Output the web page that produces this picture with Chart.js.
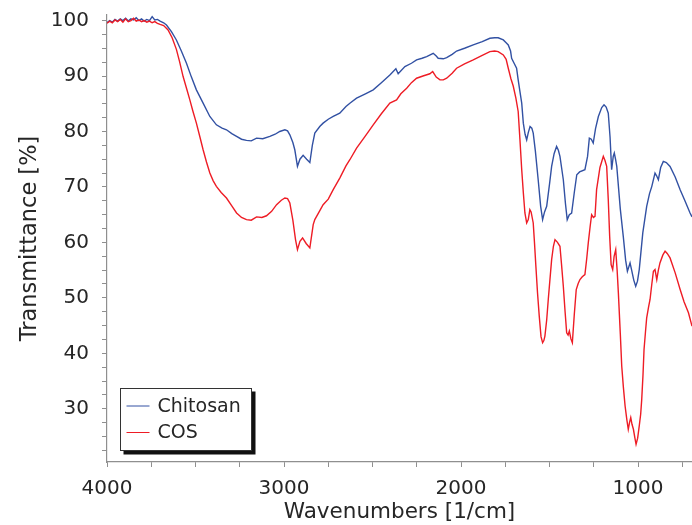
<!DOCTYPE html>
<html>
<head>
<meta charset="utf-8">
<script src="https://cdn.jsdelivr.net/npm/chart.js@4.4.1/dist/chart.umd.min.js"></script>
<style>
  html, body { margin: 0; padding: 0; background: #fff; }
  canvas { display: block; }
</style>
</head>
<body>
<canvas id="ftirChart" width="692" height="525"></canvas>
<script>
// FTIR spectra: wavenumber (1/cm) against transmittance (%)
const chitosanWavenumbers = [
  4000, 3985, 3970, 3955, 3940, 3925, 3910, 3895, 3880, 3865, 3850, 3835, 3820, 3805, 3790, 3775,
  3760, 3745, 3730, 3715, 3700, 3680, 3664, 3636, 3608, 3580, 3551, 3523, 3495, 3457, 3419, 3382,
  3350, 3325, 3295, 3268, 3240, 3212, 3185, 3155, 3120, 3080, 3050, 3024, 2995, 2980, 2967, 2950,
  2939, 2924, 2910, 2892, 2872, 2854, 2840, 2826, 2798, 2779, 2750, 2722, 2685, 2650, 2628, 2590,
  2540, 2496, 2450, 2402, 2368, 2355, 2317, 2280, 2251, 2220, 2194, 2157, 2140, 2129, 2100, 2081,
  2050, 2025, 1980, 1931, 1880, 1837, 1810, 1790, 1761, 1745, 1733, 1720, 1714, 1700, 1686, 1677,
  1667, 1657, 1648, 1638, 1629, 1620, 1610, 1600, 1592, 1580, 1564, 1550, 1539, 1528, 1516, 1500,
  1488, 1474, 1460, 1450, 1441, 1422, 1410, 1400, 1388, 1375, 1360, 1346, 1330, 1300, 1285, 1275,
  1264, 1253, 1240, 1224, 1205, 1192, 1180, 1168, 1158, 1149, 1140, 1134, 1127, 1120, 1100, 1083,
  1070, 1060, 1050, 1045, 1036, 1024, 1013, 1003, 993, 973, 951, 935, 922, 904, 895, 885,
  872, 857, 840, 819, 790, 762, 735, 706, 695
];
const chitosanTransmittance = [
  99.6, 100.0, 99.7, 100.2, 99.9, 100.3, 100.0, 100.4, 99.9, 100.3, 100.1, 100.5, 100.0, 100.3, 99.9, 100.2,
  100.0, 100.7, 100.1, 100.2, 99.9, 99.6, 99.2, 98.0, 96.5, 94.5, 92.3, 89.8, 87.5, 85.1, 82.7, 81.2,
  80.6, 80.3, 79.6, 79.1, 78.6, 78.4, 78.3, 78.8, 78.7, 79.1, 79.5, 80.0, 80.3, 80.1, 79.4, 78.0,
  76.7, 73.7, 75.0, 75.7, 75.0, 74.4, 77.5, 79.7, 80.9, 81.5, 82.2, 82.7, 83.3, 84.5, 85.1, 86.0,
  86.8, 87.5, 88.8, 90.2, 91.3, 90.4, 91.7, 92.3, 92.9, 93.2, 93.5, 94.1, 93.6, 93.2, 93.1, 93.3,
  93.9, 94.5, 95.0, 95.6, 96.2, 96.8, 96.9, 96.9, 96.5, 96.0, 95.6, 94.5, 93.2, 92.3, 91.4, 89.3,
  87.2, 85.1, 81.5, 79.5, 78.5, 79.8, 80.9, 80.6, 79.7, 76.5, 71.3, 66.5, 64.1, 65.5, 66.5, 70.5,
  73.7, 76.0, 77.3, 76.6, 75.5, 71.3, 67.0, 64.1, 65.0, 65.3, 69.0, 72.2, 72.7, 73.1, 75.5, 78.8,
  78.6, 77.9, 80.5, 82.7, 84.3, 84.8, 84.4, 83.3, 79.0, 73.1, 75.5, 76.1, 75.0, 73.7, 66.0, 61.0,
  56.8, 54.8, 55.8, 56.3, 55.0, 53.2, 52.1, 53.0, 55.1, 61.7, 66.5, 68.8, 70.1, 72.5, 72.0, 71.3,
  73.5, 74.6, 74.4, 73.7, 71.8, 69.5, 67.5, 65.3, 64.6
];

const cosWavenumbers = [
  4000, 3985, 3970, 3955, 3940, 3925, 3910, 3895, 3880, 3865, 3850, 3835, 3820, 3805, 3790, 3775,
  3760, 3745, 3730, 3715, 3700, 3680, 3655, 3632, 3608, 3590, 3570, 3550, 3532, 3515, 3495, 3475,
  3457, 3438, 3419, 3400, 3382, 3355, 3325, 3295, 3268, 3240, 3212, 3185, 3155, 3125, 3099, 3070,
  3042, 3015, 2995, 2980, 2967, 2950, 2935, 2924, 2910, 2895, 2875, 2854, 2835, 2826, 2800, 2779,
  2750, 2722, 2685, 2650, 2628, 2590, 2540, 2496, 2450, 2402, 2364, 2340, 2307, 2280, 2251, 2215,
  2176, 2160, 2140, 2119, 2100, 2081, 2050, 2025, 1980, 1931, 1880, 1837, 1810, 1790, 1761, 1745,
  1733, 1718, 1705, 1690, 1677, 1667, 1657, 1648, 1639, 1629, 1620, 1611, 1604, 1592, 1585, 1577,
  1568, 1558, 1548, 1539, 1532, 1526, 1516, 1507, 1497, 1488, 1478, 1469, 1455, 1441, 1432, 1422,
  1412, 1403, 1395, 1388, 1379, 1371, 1360, 1349, 1338, 1328, 1315, 1300, 1290, 1281, 1270, 1262,
  1252, 1243, 1234, 1215, 1196, 1187, 1177, 1168, 1160, 1152, 1143, 1135, 1126, 1118, 1111, 1100,
  1092, 1083, 1073, 1063, 1055, 1048, 1041, 1034, 1026, 1018, 1011, 1002, 993, 985, 979, 972,
  966, 958, 951, 940, 932, 922, 913, 904, 894, 885, 876, 860, 847, 835, 819, 790,
  762, 740, 715, 695
];
const cosTransmittance = [
  99.5, 99.9, 99.6, 100.1, 99.8, 100.2, 99.7, 100.3, 99.8, 100.0, 100.4, 99.9, 100.1, 99.8, 100.0, 99.7,
  99.9, 99.6, 99.8, 99.5, 99.3, 99.1, 98.3, 96.9, 94.8, 92.6, 89.9, 87.7, 85.7, 83.7, 81.5, 79.0,
  76.7, 74.5, 72.5, 71.1, 70.1, 69.0, 68.0, 66.6, 65.3, 64.5, 64.1, 64.0, 64.6, 64.5, 64.8, 65.6,
  66.8, 67.6, 68.0, 67.9, 67.1, 64.0, 60.5, 58.7, 60.2, 60.8, 59.8, 59.0, 63.2, 64.1, 65.6, 66.8,
  67.8, 69.5, 71.6, 73.8, 74.9, 77.0, 79.2, 81.2, 83.2, 85.1, 85.7, 86.8, 87.8, 88.8, 89.6, 90.0,
  90.4, 90.8, 89.8, 89.3, 89.3, 89.6, 90.5, 91.4, 92.2, 92.9, 93.7, 94.4, 94.5, 94.4, 93.8, 93.0,
  91.4, 89.5, 88.2, 86.0, 83.6, 78.5, 73.1, 69.0, 65.3, 63.5, 64.1, 65.9, 65.5, 63.5, 60.0, 55.7,
  51.0, 46.7, 43.0, 41.9, 42.3, 43.1, 46.0, 49.7, 53.5, 56.9, 59.3, 60.5, 60.0, 59.3, 56.0, 52.1,
  47.5, 43.7, 43.3, 44.0, 42.6, 41.9, 47.0, 51.5, 52.6, 53.3, 53.8, 54.2, 57.0, 59.9, 63.0, 65.0,
  64.5, 64.7, 69.5, 73.5, 75.5, 74.8, 73.7, 67.7, 61.0, 56.0, 55.1, 57.5, 58.7, 55.0, 50.9, 43.5,
  37.7, 34.0, 30.5, 28.0, 26.3, 27.5, 28.4, 27.2, 26.3, 24.8, 23.6, 24.7, 26.9, 29.0, 31.7, 36.0,
  40.7, 43.8, 46.4, 48.4, 49.7, 52.5, 54.8, 55.1, 53.3, 55.0, 56.3, 57.7, 58.4, 58.0, 57.2, 54.5,
  51.5, 49.3, 47.3, 44.9
];

const xMajorTicks = [4000, 3000, 2000, 1000];
const yMajorTicks = [100, 90, 80, 70, 60, 50, 40, 30];
const xMinorStep = 250;
const yMinorStep = 2.5;

const textColor = '#262626';
const axisColor = '#8f8f8f';
const fontFamily = '"DejaVu Sans", Verdana, sans-serif';

function toPoints(xs, ys) {
  return xs.map((x, i) => ({ x: x, y: ys[i] }));
}

// tick positions every minor step, labels only on the major values
function stepTicks(min, max, step) {
  const vals = [];
  for (let v = Math.ceil(min / step) * step; v <= max + 1e-9; v += step) vals.push(v);
  return vals;
}

// boxed legend with a drop shadow in the lower left corner
const boxLegend = {
  id: 'boxLegend',
  afterDraw(chart) {
    const ctx = chart.ctx;
    const area = chart.chartArea;
    const bx = area.left + 13.5, by = area.bottom - 73.5, bw = 131, bh = 62;
    ctx.save();
    ctx.fillStyle = '#111';
    ctx.fillRect(bx + 3, by + 3, bw + 1, bh + 1);
    ctx.fillStyle = '#fff';
    ctx.fillRect(bx, by, bw, bh);
    ctx.strokeStyle = '#333';
    ctx.lineWidth = 1;
    ctx.strokeRect(bx, by, bw, bh);
    ctx.font = '19px ' + fontFamily;
    ctx.textBaseline = 'middle';
    ctx.fillStyle = textColor;
    chart.data.datasets.forEach((ds, i) => {
      const ly = by + 17.5 + i * 26.5;
      ctx.strokeStyle = ds.borderColor;
      ctx.beginPath();
      ctx.moveTo(bx + 6, ly);
      ctx.lineTo(bx + 29, ly);
      ctx.stroke();
      ctx.fillText(ds.label, bx + 37, ly + 1);
    });
    ctx.restore();
  }
};

new Chart(document.getElementById('ftirChart'), {
  type: 'line',
  data: {
    datasets: [
      {
        label: 'Chitosan',
        data: toPoints(chitosanWavenumbers, chitosanTransmittance),
        borderColor: '#3251a3',
        borderWidth: 1.4,
        pointRadius: 0,
        order: 1
      },
      {
        label: 'COS',
        data: toPoints(cosWavenumbers, cosTransmittance),
        borderColor: '#ee1c25',
        borderWidth: 1.4,
        pointRadius: 0,
        order: 0
      }
    ]
  },
  options: {
    responsive: false,
    animation: false,
    devicePixelRatio: 1,
    layout: { padding: { top: 15, right: 0, bottom: 0, left: 0 } },
    plugins: {
      legend: { display: false },
      tooltip: { enabled: false }
    },
    scales: {
      x: {
        type: 'linear',
        reverse: true,
        min: 695,
        max: 4000,
        afterBuildTicks: s => { s.ticks = stepTicks(695, 4000, xMinorStep).map(v => ({ value: v })); },
        afterFit: s => { s.height = 63; s.paddingLeft = 0; s.paddingRight = 0; },
        ticks: {
          autoSkip: false,
          maxRotation: 0,
          padding: 10,
          color: textColor,
          font: { family: fontFamily, size: 20 },
          callback: v => xMajorTicks.includes(v) ? String(v) : ''
        },
        grid: { drawOnChartArea: false, tickLength: 5, color: axisColor },
        border: { color: axisColor, width: 1.2 },
        title: {
          display: true,
          text: 'Wavenumbers [1/cm]',
          color: textColor,
          font: { family: fontFamily, size: 21.5 },
          padding: { top: 0, bottom: 0 }
        }
      },
      y: {
        type: 'linear',
        min: 20.4,
        max: 101,
        afterBuildTicks: s => { s.ticks = stepTicks(20.4, 101, yMinorStep).map(v => ({ value: v })); },
        afterFit: s => { s.width = 107; s.paddingTop = 0; s.paddingBottom = 0; },
        ticks: {
          autoSkip: false,
          padding: 13,
          color: textColor,
          font: { family: fontFamily, size: 20 },
          callback: v => yMajorTicks.includes(v) ? String(v) : ''
        },
        grid: { drawOnChartArea: false, tickLength: 5, color: axisColor },
        border: { color: axisColor, width: 1.2 },
        title: {
          display: true,
          text: 'Transmittance [%]',
          color: textColor,
          font: { family: fontFamily, size: 22.5 },
          padding: { top: 17, bottom: 0 }
        }
      }
    }
  },
  plugins: [boxLegend]
});
</script>
</body>
</html>
